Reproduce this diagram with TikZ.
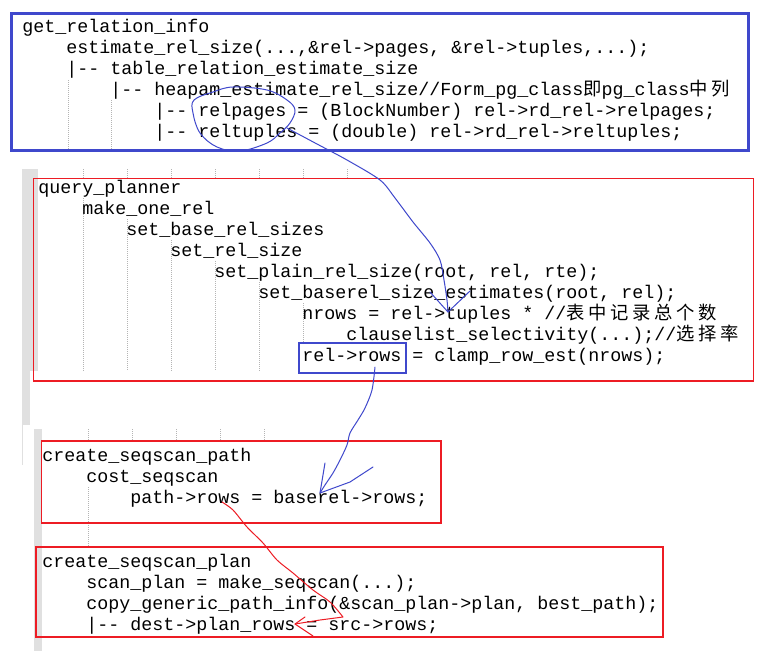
\documentclass[tikz,border=0pt]{standalone}
\usepackage{fontspec}
\setmonofont{Liberation Mono}
\newfontfamily\cjk{Noto Sans CJK SC}[LetterSpace=20]
\usepackage{tikz}
\usetikzlibrary{arrows.meta, positioning, calc}
\definecolor{pblue}{HTML}{3F48CC}
\definecolor{pred}{HTML}{ED1C24}
\definecolor{barg}{HTML}{E0E0E0}
\definecolor{guideg}{HTML}{B4B4B4}
\tikzset{
  code/.style={
    font=\ttfamily\fontsize{13.75}{16}\selectfont,
    anchor=base west, inner sep=0pt
  },
  mainbox/.style={draw=pblue, line width=2.5pt},
  redbox/.style={draw=pred, line width=1pt},
  hlbox/.style={draw=pblue, line width=0.8pt},
  guide/.style={draw=guideg, line width=0.75pt, dash pattern=on 0.75pt off 0.75pt},
  pen/.style={draw=#1, line width=0.75pt, line join=round, line cap=round},
  pen/.default=pblue
}
\begin{document}
\begin{tikzpicture}[x=0.75pt, y=-0.75pt]
  \useasboundingbox (0,0) rectangle (776,651);
  \fill[white] (0,0) rectangle (776,651);

  % editor margin and indent guides
  \fill[barg] (22,169) rectangle (38,371);
  \fill[barg] (22,371) rectangle (30,425);
  \draw[barg, line width=0.75pt] (22.5,425) -- (22.5,465);
  \fill[barg] (34,429) rectangle (42,651);
  \draw[guide] (68,80) -- (68,150);
  \draw[guide] (111,100) -- (111,150);
  \foreach \k in {1,...,7}
    \draw[guide] ({39+44*\k},169) -- ({39+44*\k},178);
  \foreach \k in {1,...,5}
    \draw[guide] ({39+44*\k},{177+21*\k}) -- ({39+44*\k},371);
  \draw[guide] (303,303) -- (303,342);
  \foreach \k in {1,...,5}
    \draw[guide] ({44+44*\k},429) -- ({44+44*\k},441);
  \draw[guide] (88,487) -- (88,547);

  % get_relation_info
  \draw[mainbox] (11.3,13.3) rectangle (748.3,150.5);
  \node[code] (gri) at (22,32) {get\_relation\_info};
  \node[code] (erel) at (66,53) {estimate\_rel\_size(...,\&rel->pages, \&rel->tuples,...);};
  \node[code] (trel) at (66,74) {|-{}- table\_relation\_estimate\_size};
  \node[code] (hrel) at (110,95) {|-{}- heapam\_estimate\_rel\_size//Form\_pg\_class{\cjk 即}pg\_class{\cjk 中列}};
  \node[code] (relpages) at (154,116) {|-{}- relpages = (BlockNumber) rel->rd\_rel->relpages;};
  \node[code] (reltuples) at (154,137) {|-{}- reltuples = (double) rel->rd\_rel->reltuples;};

  % query_planner
  \draw[redbox] (33.3,178.7) rectangle (753.3,381);
  \node[code] (qp) at (38,193) {query\_planner};
  \node[code] (mor) at (82,214) {make\_one\_rel};
  \node[code] (sbrs) at (126,235) {set\_base\_rel\_sizes};
  \node[code] (srs) at (170,256) {set\_rel\_size};
  \node[code] (sprs) at (214,277) {set\_plain\_rel\_size(root, rel, rte);};
  \node[code] (sbse) at (258,298) {set\_baserel\_size\_estimates(root, rel);};
  \node[code] (nrows) at (302,319) {nrows = rel->tuples * //{\cjk 表中记录总个数}};
  \node[code] (csel) at (346,340) {clauselist\_selectivity(...);//{\cjk 选择率}};
  \node[code] (rrows) at (302,361) {rel->rows = clamp\_row\_est(nrows);};
  \draw[hlbox] (299,343) rectangle (406,373);

  % create_seqscan_path
  \draw[redbox] (41.3,441) rectangle (441,523);
  \node[code] (csp) at (42,461) {create\_seqscan\_path};
  \node[code] (cs) at (86,482) {cost\_seqscan};
  \node[code] (prows) at (130,503) {path->rows = baserel->rows;};

  % create_seqscan_plan
  \draw[redbox] (36,547) rectangle (663,637);
  \node[code] (cspl) at (42,567) {create\_seqscan\_plan};
  \node[code] (mss) at (86,588) {scan\_plan = make\_seqscan(...);};
  \node[code] (cgpi) at (86,609) {copy\_generic\_path\_info(\&scan\_plan->plan, best\_path);};
  \node[code] (dest) at (86,630) {|-{}- dest->plan\_rows = src->rows;};

  % hand-drawn marks
  \coordinate (tuptip) at (448,312);
  \coordinate (brtip) at (320,493);
  \coordinate (prtip) at (295,624);
  \draw[pen] plot[smooth cycle, tension=0.6] coordinates {
    (194,100) (213,92) (233,87) (267,90) (287,100) (295,110) (290,123)
    (280,133) (267,143) (240,151) (217,147) (200,133) (193,113)};
  \draw[pen] plot[smooth] coordinates {
    (287,128) (317,144) (347,160) (380,180) (395,198) (413,222) (430,243)
    (440,260) (444,280) (447,300) (tuptip)};
  \draw[pen] (430,292) -- (tuptip) -- (470,291);
  \draw[pen] plot[smooth] coordinates {
    (375,367) (372,390) (365,408) (358,420) (350,433) (347,445) (340,460)
    (333,473) (325,485) (brtip)};
  \draw[pen] (325,463) -- (brtip) -- (350,482) -- (373,467);
  \draw[pen=pred] plot[smooth] coordinates {
    (222,502) (233,510) (247,527) (263,543) (277,560) (293,573) (313,590)
    (330,602) (343,617)} -- (320,620) -- (prtip);
  \draw[pen=pred] (305,617) -- (prtip) -- (313,636);
\end{tikzpicture}
\end{document}
